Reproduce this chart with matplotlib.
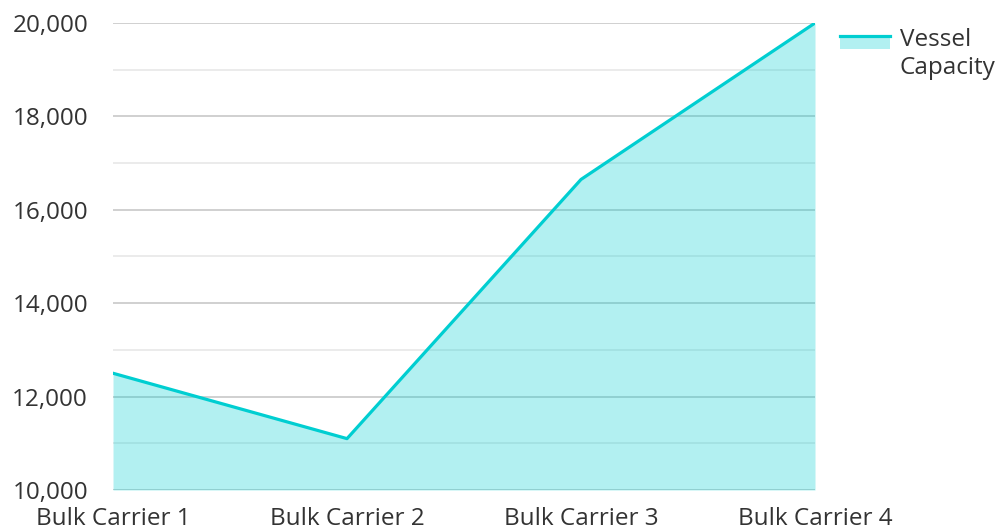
import matplotlib

matplotlib.use("Agg")
import matplotlib.pyplot as plt
from matplotlib.legend_handler import HandlerBase
from matplotlib.lines import Line2D
from matplotlib.patches import Rectangle
from matplotlib.ticker import FuncFormatter, MultipleLocator

# data
categories = ["Bulk Carrier 1", "Bulk Carrier 2", "Bulk Carrier 3", "Bulk Carrier 4"]
capacity = [12500, 11100, 16650, 20000]
series_name = "Vessel\nCapacity"

line_color = "#00CED1"
text_color = "#333333"
font_size = 17.5


class AreaHandler(HandlerBase):
    # filled box with the line running along its top edge, lifted to sit by the first text line
    lift = 8.5

    def create_artists(self, legend, orig_handle, xdescent, ydescent, width, height, fontsize, trans):
        y0 = -ydescent + self.lift
        box = Rectangle((-xdescent, y0), width, height, facecolor=line_color,
                        alpha=0.3, edgecolor="none", transform=trans)
        top = y0 + height
        line = Line2D([-xdescent, -xdescent + width], [top, top], color=line_color,
                      linewidth=2.3, transform=trans)
        return [box, line]


plt.rcParams["font.family"] = ["Open Sans", "DejaVu Sans"]

fig = plt.figure(figsize=(10.01, 5.31), dpi=100)
ax = fig.add_axes([0.1129, 0.0772, 0.7013, 0.8795])

x = list(range(len(categories)))
ax.fill_between(x, 10000, capacity, color=line_color, alpha=0.3, linewidth=0, zorder=2)
ax.plot(x, capacity, color=line_color, linewidth=2.3, zorder=3)

ax.set_xlim(0, len(categories) - 1)
ax.set_ylim(10000, 20000)
ax.yaxis.set_major_locator(MultipleLocator(2000))
ax.yaxis.set_minor_locator(MultipleLocator(1000))
ax.yaxis.set_major_formatter(FuncFormatter(lambda v, _: f"{int(v):,}"))
ax.grid(axis="y", which="major", color="#c4c4c4", linewidth=1.1, zorder=1)
ax.grid(axis="y", which="minor", color="#e6e6e6", linewidth=1.1, zorder=1)
ax.set_axisbelow(True)

ax.set_xticks(x)
ax.set_xticklabels(categories)
ax.tick_params(axis="both", which="both", length=0, labelsize=font_size, colors=text_color)
ax.tick_params(axis="y", pad=18)
ax.tick_params(axis="x", pad=12.5)

for side in ["top", "right", "left", "bottom"]:
    ax.spines[side].set_visible(False)

leg = ax.legend(["area"], [series_name], loc="upper left", bbox_to_anchor=(1.004, 1.036),
                frameon=False, fontsize=font_size, handlelength=2.05, handleheight=0.49,
                handletextpad=0.42, labelcolor=text_color,
                handler_map={str: AreaHandler()})
for t in leg.get_texts():
    t.set_linespacing(1.2)

fig.savefig("out.png", dpi=100)
